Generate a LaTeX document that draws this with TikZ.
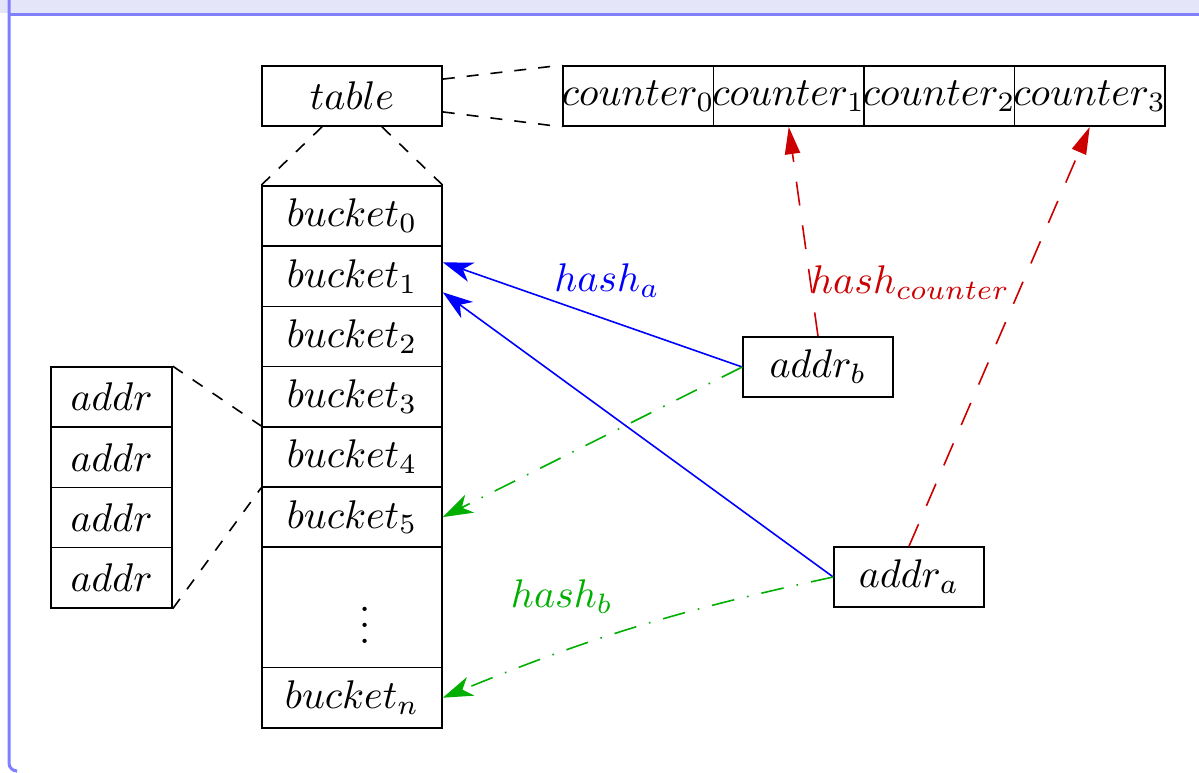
\documentclass[tikz,border=0pt]{standalone}
\usetikzlibrary{arrows.meta,calc}
\definecolor{mblue}{RGB}{0,0,255}
\definecolor{mred}{RGB}{204,0,0}
\definecolor{mgreen}{RGB}{0,175,0}
\definecolor{framefill}{RGB}{229,229,250}
\definecolor{frameline}{RGB}{128,128,255}
\begin{document}
\begin{tikzpicture}[x=0.25pt,y=-0.25pt,
  cell/.style={draw,line width=0.4pt,inner sep=0pt,minimum height=15.05pt},
  wcell/.style={cell,minimum width=45pt},
  ccell/.style={cell,minimum width=37.625pt},
  acell/.style={cell,minimum width=30.25pt},
  pcell/.style={cell,minimum width=37.5pt,minimum height=15pt},
  link/.style={dashed,line width=0.4pt},
  bluearr/.style={mblue,line width=0.4pt,-{Stealth[length=7.5pt,width=5pt,inset=2.2pt]}},
  greenarr/.style={mgreen,line width=0.4pt,dash pattern=on 5.7pt off 3.3pt on 0.4pt off 3.3pt,-{Stealth[length=7.5pt,width=5pt,inset=2.2pt]}},
  redarr/.style={mred,line width=0.4pt,dash pattern=on 6pt off 5pt,-{Triangle[length=6.8pt,width=3.8pt]}},
  lbl/.style={inner sep=0pt}]
\useasboundingbox (0,0) rectangle (1199,772);
\begin{scope}
\clip (0,0) rectangle (1199,772);
\fill[framefill] (-10,-10) rectangle (1210,13);
\draw[frameline,line width=0.75pt] (7.5,14.5) -- (1210,14.5);
\draw[frameline,line width=0.75pt,rounded corners=2] (9,-10) -- (9,771) -- (16,771);
\end{scope}

% table and counters
\node[wcell] (table) at (352,96) {$table$};
\node[ccell] (c0) at (638.25,96) {\makebox[30pt]{$counter_0$}};
\node[ccell] (c1) at (788.75,96) {\makebox[30pt]{$counter_1$}};
\node[ccell] (c2) at (939.25,96) {\makebox[30pt]{$counter_2$}};
\node[ccell] (c3) at (1089.75,96) {\makebox[30pt]{$counter_3$}};

% buckets
\node[wcell] (b0) at (352,216.1) {$bucket_0$};
\node[wcell] (b1) at (352,276.3) {$bucket_1$};
\node[wcell] (b2) at (352,336.5) {$bucket_2$};
\node[wcell] (b3) at (352,396.7) {$bucket_3$};
\node[wcell] (b4) at (352,456.9) {$bucket_4$};
\node[wcell] (b5) at (352,517.1) {$bucket_5$};
\node[wcell,minimum height=30.1pt] (bd) at (352,607.4) {};
\node[inner sep=0pt] (dots) at (365,613) {$\vdots$};
\node[wcell] (bn) at (352,697.7) {$bucket_n$};

% addr column
\node[acell] (a1) at (111.5,397.1) {$addr$};
\node[acell] (a2) at (111.5,457.3) {$addr$};
\node[acell] (a3) at (111.5,517.5) {$addr$};
\node[acell] (a4) at (111.5,577.7) {$addr$};

% addresses
\node[pcell] (addrb) at (818,367) {$addr_b$};
\node[pcell] (addra) at (909,577) {$addr_a$};

% dashed connectors
\draw[link] ($(table.north east)+(0,14)$) -- (c0.north west);
\draw[link] ($(table.south east)+(0,-15)$) -- (c0.south west);
\draw[link] ($(table.south)+(-30,0)$) -- (b0.north west);
\draw[link] ($(table.south)+(30,0)$) -- (b0.north east);
\draw[link] (a1.north east) -- (b4.north west);
\draw[link] (a4.south east) -- (b4.south west);

% hash arrows
\draw[bluearr] (addrb.west) -- ($(b1.east)+(0,-14)$);
\draw[bluearr] (addra.west) -- ($(b1.east)+(0,16)$);
\draw[greenarr] (addrb.west) -- (b5.east);
\draw[greenarr] (addra.west) to[bend right=5] (bn.east);
\draw[redarr] (addrb.north) -- (c1.south);
\draw[redarr] (addra.north) -- (c3.south);

% labels
\node[lbl,text=mblue] (ha) at (607,281) {$hash_a$};
\node[lbl,text=mred] (hc) at (910,283) {$hash_{counter}$};
\node[lbl,text=mgreen] (hb) at (562,597) {$hash_b$};
\end{tikzpicture}
\end{document}
